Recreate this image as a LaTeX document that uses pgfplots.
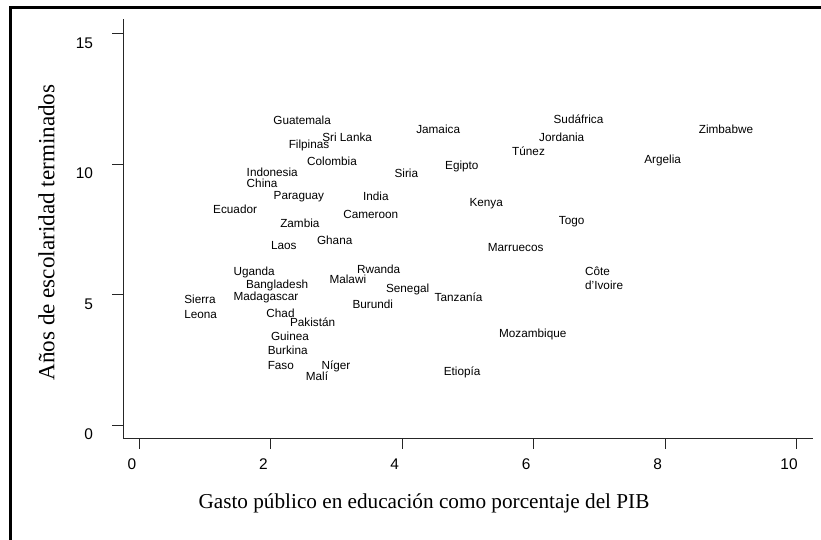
\documentclass[border=0pt]{standalone}
\usepackage{fontspec}
\setmainfont{Liberation Sans}
\newfontfamily\seriffont{Liberation Serif}
\usepackage{pgfplots}
\pgfplotsset{compat=1.18}

\begin{document}
\begin{tikzpicture}
\useasboundingbox (-123bp,-102bp) rectangle (698bp,438bp);
\draw[line width=2.7bp] (-112.7bp,-110bp) -- (-112.7bp,430.7bp) -- (710bp,430.7bp);
\begin{axis}[
  at={(0,0)}, anchor=south west,
  scale only axis, width=690bp, height=419bp,
  xmin=-0.25, xmax=10.25, ymin=-0.5, ymax=15.55,
  axis lines=left, axis line style={-, line width=0.75bp, black!85},
  tick align=outside, major tick length=10.5bp,
  every tick/.style={black!85, line width=0.75bp},
  xtick={0,2,4,6,8,10}, ytick={0,5,10,15},
  /pgf/number format/assume math mode=true,
  tick label style={font=\fontsize{15.5}{16}\selectfont},
  xticklabel style={xshift=-7.5bp, yshift=-6.5bp},
  yticklabel style={xshift=-16bp, yshift=-9.5bp},
  xlabel={Gasto público en educación como porcentaje del PIB},
  ylabel={Años de escolaridad terminados},
  xlabel style={font=\seriffont\fontsize{21.3}{24}\selectfont,
    at={(axis description cs:0.4362,-0.1678)}, anchor=base},
  ylabel style={font=\seriffont\fontsize{23.2}{26}\selectfont,
    at={(axis description cs:-0.0996,0.4905)}, anchor=base},
  clip=false,
]
\addplot[draw=none, mark=none, nodes near coords, point meta=explicit symbolic,
  every node near coord/.append style={anchor=west, inner sep=0pt, align=left,
    font=\fontsize{11.8}{14.3}\selectfont, text=black}]
coordinates {
(2.035,11.67) [Guatemala]
(2.78,11.03) [Sri Lanka]
(2.27,10.69) [Filpinas]
(2.55,10.11) [Colombia]
(4.21,11.33) [Jamaica]
(4.65,9.91) [Egipto]
(3.88,9.63) [Siria]
(5.67,10.50) [Túnez]
(6.30,11.71) [Sudáfrica]
(6.08,11.03) [Jordania]
(8.51,11.33) [Zimbabwe]
(7.68,10.14) [Argelia]
(6.38,7.78) [Togo]
(6.78,5.61) [{Côte\\d'Ivoire}]
(1.63,9.69) [Indonesia]
(1.63,9.27) [China]
(2.04,8.76) [Paraguay]
(1.12,8.25) [Ecuador]
(2.14,7.74) [Zambia]
(2.00,6.89) [Laos]
(2.70,7.08) [Ghana]
(3.40,8.74) [India]
(3.10,8.07) [Cameroon]
(5.02,8.46) [Kenya]
(5.30,6.79) [Marruecos]
(1.43,5.84) [Uganda]
(1.62,5.36) [Bangladesh]
(1.43,4.89) [Madagascar]
(0.68,4.53) [{Sierra\\Leona}]
(1.93,4.27) [Chad]
(2.29,3.95) [Pakistán]
(2.00,3.38) [Guinea]
(1.95,2.57) [{Burkina\\Faso}]
(2.77,2.23) [Níger]
(2.53,1.85) [Malí]
(3.31,5.97) [Rwanda]
(2.89,5.59) [Malawi]
(3.75,5.20) [Senegal]
(3.24,4.62) [Burundi]
(4.49,4.91) [Tanzanía]
(5.47,3.47) [Mozambique]
(4.63,2.02) [Etiopía]
};
\end{axis}
\end{tikzpicture}
\end{document}
